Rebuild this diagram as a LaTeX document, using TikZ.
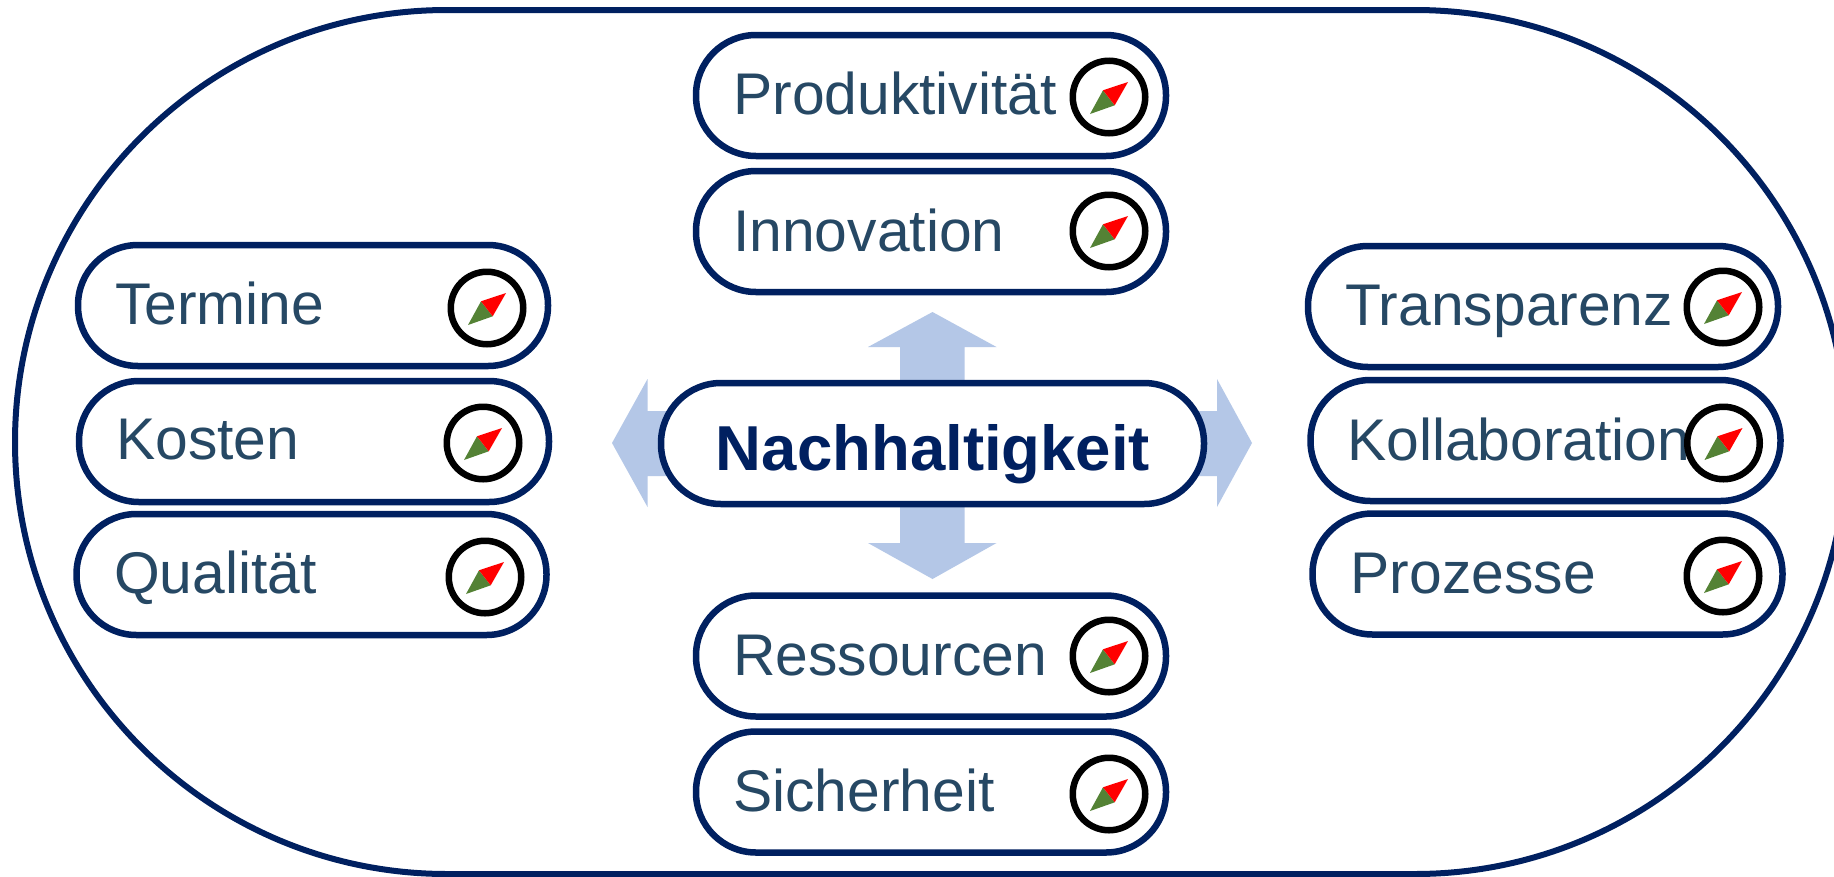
\documentclass[tikz,border=0pt]{standalone}
\usepackage{fontspec}
\setmainfont{Liberation Sans}
\definecolor{navy}{HTML}{002060}
\definecolor{labelblue}{HTML}{264864}
\definecolor{arrowblue}{HTML}{B4C7E7}
\definecolor{needlegreen}{HTML}{548235}
\definecolor{needlered}{HTML}{FF0000}
\tikzset{
  pillbox/.style={draw=navy,line width=6.5pt,fill=white,rounded corners=60pt,inner sep=0pt,minimum width=470pt,minimum height=121pt},
  pilllabel/.style={anchor=base west,inner sep=0pt,text=labelblue,font=\fontsize{58.8}{62}\selectfont},
  dial/.style={circle,draw=black,line width=6.5pt,fill=white,inner sep=0pt,minimum size=72.5pt},
  centrebox/.style={draw=navy,line width=6.5pt,fill=white,rounded corners=60pt,inner sep=0pt,minimum width=543pt,minimum height=121pt},
  centrelabel/.style={inner sep=0pt,anchor=base,text=navy,font=\fontsize{63.5}{66}\selectfont\bfseries},
  outerbox/.style={draw=navy,line width=6pt,rounded corners=432pt,inner sep=0pt,minimum width=1832pt,minimum height=864pt}
}
\begin{document}
\begin{tikzpicture}[x=1pt,y=-1pt]
\useasboundingbox (0,0) rectangle (1834,876);
\clip (0,0) rectangle (1834,876);
\fill[white] (0,0) rectangle (1834,876);
\node[outerbox] (outer) at (931,442) {};
\fill[arrowblue] (932.5,312)--(996.5,347)--(964.5,347)--(964.5,411)--(1217,411)--(1217,379)--(1252,443)--(1217,507)--(1217,476)--(964.5,476)--(964.5,543)--(996.5,543)--(932.5,579)--(868,543)--(900,543)--(900,476)--(647.5,476)--(647.5,507)--(612,443)--(647.5,379)--(647.5,411)--(900,411)--(900,347)--(868,347)--cycle;
\node[centrebox] (centre) at (932.5,443.5) {};
\node[centrelabel] (centretext) at (933,470) {Nachhaltigkeit};
\foreach \id/\px/\py/\txt/\tx/\ty/\cx/\cy in {
  termine/313/305.5/Termine/115/324/487/308,
  kosten/314/441.5/Kosten/116/459/483/443,
  qualitaet/311.5/574.5/Qualität/114/593/485/577,
  produktivitaet/931/95.5/Produktivität/733/114/1109/97,
  innovation/931/231.5/Innovation/733/251/1109/231,
  ressourcen/931/656/Ressourcen/733/675.5/1109/656,
  sicherheit/931/792/Sicherheit/733/811/1109/794,
  transparenz/1543/306.5/Transparenz/1345/325/1723/307,
  kollaboration/1545.5/440.5/Kollaboration/1347/460/1723.5/443,
  prozesse/1547.5/574/Prozesse/1350.5/593/1723/576}
{
  \node[pillbox] (\id) at (\px,\py) {};
  \node[pilllabel] (\id-text) at (\tx,\ty) {\txt};
  \node[dial] (\id-dial) at (\cx,\cy) {};
  \begin{scope}[shift={(\cx,\cy)}]
    \fill[needlegreen] (-19,17)--(-6,-6.7)--(5.7,8.3)--cycle;
    \fill[needlered] (19,-15)--(-6,-6.7)--(5.7,8.3)--cycle;
  \end{scope}
}
\end{tikzpicture}
\end{document}
